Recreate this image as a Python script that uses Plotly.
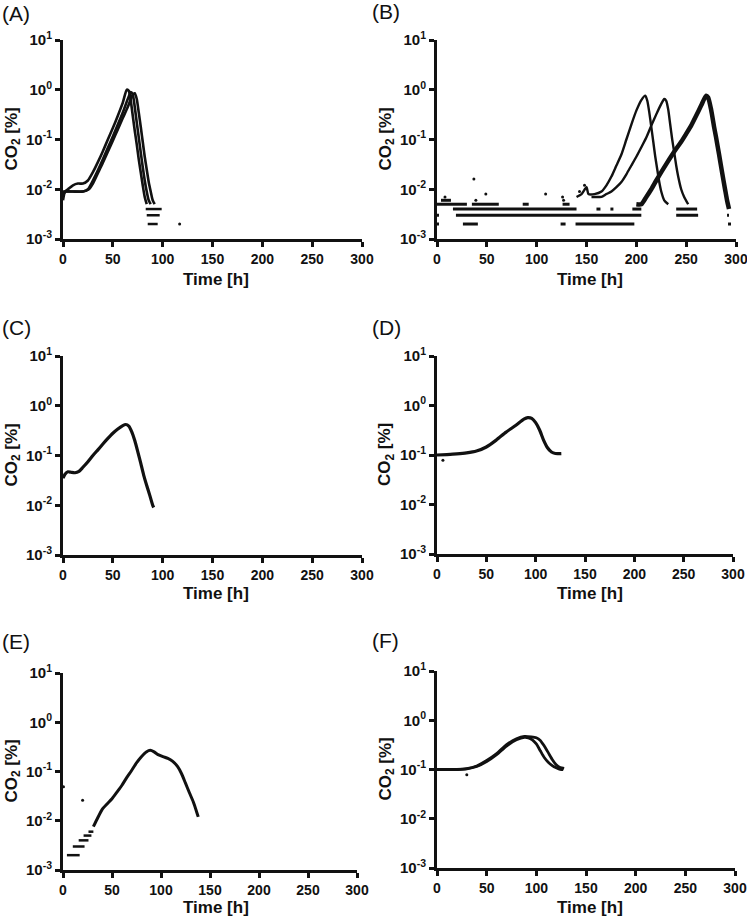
import plotly.graph_objects as go

# ---------------- data ----------------
# Panel A: three cultures
A1_t = [0, 2, 5, 10, 15, 20, 25, 30, 35, 40, 45, 50, 55, 60, 64, 66, 68, 70, 72, 74, 76, 78, 80, 82, 84]
A1_y = [0.006, 0.009, 0.010, 0.012, 0.013, 0.013, 0.015, 0.022, 0.035, 0.058, 0.10, 0.17, 0.30, 0.55, 1.0, 0.95, 0.6, 0.3, 0.15, 0.08, 0.04, 0.022, 0.012, 0.007, 0.005]
A2_t = [0, 3, 10, 20, 25, 30, 35, 40, 45, 50, 55, 60, 65, 68, 70, 72, 74, 76, 78, 80, 82, 84, 86, 88]
A2_y = [0.008, 0.009, 0.009, 0.009, 0.010, 0.015, 0.024, 0.040, 0.068, 0.115, 0.2, 0.35, 0.65, 0.9, 0.8, 0.45, 0.22, 0.11, 0.055, 0.028, 0.015, 0.009, 0.006, 0.005]
A3_t = [0, 10, 20, 26, 30, 35, 40, 45, 50, 55, 60, 65, 70, 72, 74, 76, 78, 80, 82, 84, 86, 88, 90, 92]
A3_y = [0.009, 0.009, 0.009, 0.010, 0.013, 0.021, 0.034, 0.057, 0.095, 0.16, 0.27, 0.45, 0.8, 0.85, 0.65, 0.35, 0.18, 0.09, 0.045, 0.025, 0.014, 0.009, 0.006, 0.005]
A_low_t = [83, 99, None, 84, 97, None, 85, 95]
A_low_y = [0.004, 0.004, None, 0.003, 0.003, None, 0.002, 0.002]
A_dot_t = [117]
A_dot_y = [0.002]

# Panel B: three cultures
B1_t = [140, 145, 150, 152, 158, 165, 170, 175, 180, 185, 190, 195, 200, 205, 209, 211, 213, 215, 217, 219, 221, 223, 225, 228, 232]
B1_y = [0.007, 0.008, 0.011, 0.008, 0.008, 0.009, 0.012, 0.018, 0.03, 0.05, 0.1, 0.2, 0.38, 0.62, 0.76, 0.6, 0.35, 0.18, 0.09, 0.045, 0.025, 0.014, 0.009, 0.006, 0.005]
B2_t = [155, 160, 165, 170, 175, 180, 185, 190, 195, 200, 205, 210, 215, 220, 225, 228, 230, 232, 234, 236, 238, 240, 242, 245, 248, 252]
B2_y = [0.007, 0.007, 0.007, 0.008, 0.009, 0.011, 0.014, 0.02, 0.03, 0.045, 0.07, 0.11, 0.19, 0.32, 0.52, 0.65, 0.6, 0.4, 0.2, 0.1, 0.055, 0.03, 0.018, 0.01, 0.007, 0.005]
B3_t = [200, 205, 210, 215, 220, 225, 230, 235, 240, 245, 250, 255, 260, 265, 270, 272, 275, 278, 280, 283, 286, 289, 291, 293]
B3_y = [0.005, 0.005, 0.007, 0.01, 0.015, 0.022, 0.032, 0.046, 0.065, 0.09, 0.13, 0.19, 0.3, 0.48, 0.76, 0.7, 0.4, 0.18, 0.11, 0.05, 0.022, 0.01, 0.006, 0.004]
B_low_t = [4, 14, None,
           0, 30, None, 35, 62, None, 86, 92, None, 126, 133, None,
           16, 140, None, 160, 164, None, 174, 177, None, 196, 205, None, 240, 261, None,
           0, 2, None, 19, 205, None, 240, 262, None, 291, 293, None,
           0, 2, None, 26, 41, None, 124, 129, None, 139, 198, None, 292, 295]
B_low_y = [0.006, 0.006, None,
           0.005, 0.005, None, 0.005, 0.005, None, 0.005, 0.005, None, 0.005, 0.005, None,
           0.004, 0.004, None, 0.004, 0.004, None, 0.004, 0.004, None, 0.004, 0.004, None, 0.004, 0.004, None,
           0.003, 0.003, None, 0.003, 0.003, None, 0.003, 0.003, None, 0.003, 0.003, None,
           0.002, 0.002, None, 0.002, 0.002, None, 0.002, 0.002, None, 0.002, 0.002, None, 0.002, 0.002]
B_dot_t = [8, 37, 39, 49, 109, 126, 127, 143, 148]
B_dot_y = [0.007, 0.016, 0.006, 0.008, 0.008, 0.007, 0.006, 0.009, 0.012]

# Panel C
C_t = [0, 2, 5, 8, 12, 16, 20, 25, 30, 35, 40, 45, 50, 55, 60, 63, 66, 69, 72, 75, 78, 81, 84, 87, 90, 91]
C_y = [0.035, 0.042, 0.047, 0.046, 0.045, 0.048, 0.058, 0.075, 0.1, 0.13, 0.17, 0.22, 0.28, 0.34, 0.4, 0.42, 0.39, 0.3, 0.2, 0.12, 0.07, 0.04, 0.025, 0.016, 0.01, 0.009]

# Panel D
D_t = [0, 10, 20, 30, 40, 50, 60, 70, 80, 88, 92, 96, 100, 104, 108, 112, 116, 120, 126]
D_y = [0.1, 0.102, 0.105, 0.11, 0.12, 0.145, 0.2, 0.29, 0.4, 0.53, 0.57, 0.55, 0.45, 0.32, 0.2, 0.14, 0.115, 0.107, 0.107]
D_dot_t = [6]
D_dot_y = [0.078]

# Panel E
E_t = [31, 35, 40, 45, 50, 55, 60, 65, 70, 75, 80, 85, 89, 93, 97, 102, 107, 112, 117, 121, 125, 129, 133, 136, 138]
E_y = [0.0076, 0.011, 0.017, 0.022, 0.028, 0.038, 0.052, 0.075, 0.105, 0.15, 0.2, 0.25, 0.27, 0.25, 0.22, 0.2, 0.185, 0.16, 0.125, 0.09, 0.058, 0.037, 0.024, 0.016, 0.012]
E_low_t = [4, 17, None, 10, 22, None, 16, 26, None, 21, 29, None, 26, 31]
E_low_y = [0.002, 0.002, None, 0.003, 0.003, None, 0.004, 0.004, None, 0.005, 0.005, None, 0.006, 0.006]
E_dot_t = [0.5, 20]
E_dot_y = [0.049, 0.026]

# Panel F: two cultures
F1_t = [0, 10, 20, 30, 40, 50, 60, 70, 80, 88, 92, 96, 100, 104, 108, 112, 116, 120, 124, 127]
F1_y = [0.1, 0.1, 0.1, 0.103, 0.115, 0.145, 0.2, 0.3, 0.4, 0.45, 0.44, 0.4, 0.33, 0.24, 0.175, 0.14, 0.12, 0.108, 0.1, 0.1]
F2_t = [0, 10, 20, 30, 40, 50, 60, 70, 80, 88, 95, 100, 104, 108, 112, 116, 120, 124, 128]
F2_y = [0.1, 0.1, 0.1, 0.104, 0.118, 0.152, 0.21, 0.32, 0.42, 0.47, 0.46, 0.44, 0.39, 0.3, 0.22, 0.16, 0.125, 0.11, 0.105]
F_dot_t = [30]
F_dot_y = [0.078]

x_ticks = [0, 50, 100, 150, 200, 250, 300]
y_ticks = [0.001, 0.01, 0.1, 1, 10]
y_ticktext = ["10<sup>-3</sup>", "10<sup>-2</sup>", "10<sup>-1</sup>", "10<sup>0</sup>", "10<sup>1</sup>"]
panel_labels = ["(A)", "(B)", "(C)", "(D)", "(E)", "(F)"]

# ---------------- layout geometry (pixels) ----------------
W, H = 747, 918
# (x0, x1, ytop, ybottom) of each plot area
boxes = [
    (63, 362, 40, 239),
    (437, 736, 40, 239),
    (63, 362, 356, 555),
    (437, 733, 356, 554),
    (63, 357, 673, 870),
    (437, 735, 671, 868),
]
xtitle_gap = [40, 40, 38, 39, 37, 39]

FONT = "Liberation Sans, Arial, Helvetica, sans-serif"
BLACK = "#111111"

fig = go.Figure()

def add_line(t, y, k, width=2.6):
    fig.add_trace(go.Scatter(
        x=t, y=y, mode="lines", xaxis=f"x{k}", yaxis=f"y{k}",
        line=dict(color=BLACK, width=width, shape="spline", smoothing=0.6),
        connectgaps=False, showlegend=False, hoverinfo="skip", cliponaxis=False))

def add_steps(t, y, k, width=3):
    fig.add_trace(go.Scatter(
        x=t, y=y, mode="lines", xaxis=f"x{k}", yaxis=f"y{k}",
        line=dict(color=BLACK, width=width),
        connectgaps=False, showlegend=False, hoverinfo="skip", cliponaxis=False))

def add_dots(t, y, k, size=3):
    fig.add_trace(go.Scatter(
        x=t, y=y, mode="markers", xaxis=f"x{k}", yaxis=f"y{k}",
        marker=dict(color=BLACK, size=size, line=dict(width=0)),
        showlegend=False, hoverinfo="skip", cliponaxis=False))

# A
add_line(A1_t, A1_y, 1)
add_line(A2_t, A2_y, 1)
add_line(A3_t, A3_y, 1)
add_steps(A_low_t, A_low_y, 1, 2.5)
add_dots(A_dot_t, A_dot_y, 1)
# B
add_steps(B_low_t, B_low_y, 2, 3)
add_dots(B_dot_t, B_dot_y, 2)
add_line(B1_t, B1_y, 2, 2.4)
add_line(B2_t, B2_y, 2, 2.4)
add_line(B3_t, B3_y, 2, 4.5)
# C
add_line(C_t, C_y, 3, 3.2)
# D
add_line(D_t, D_y, 4, 3.2)
add_dots(D_dot_t, D_dot_y, 4)
# E
add_line(E_t, E_y, 5, 3.0)
add_steps(E_low_t, E_low_y, 5, 2.5)
add_dots(E_dot_t, E_dot_y, 5)
# F
add_line(F1_t, F1_y, 6, 2.8)
add_line(F2_t, F2_y, 6, 2.8)
add_dots(F_dot_t, F_dot_y, 6)

layout = dict(
    width=W, height=H, autosize=False,
    margin=dict(l=0, r=0, t=0, b=0, autoexpand=False),
    paper_bgcolor="white", plot_bgcolor="white",
    showlegend=False,
    font=dict(family=FONT, color=BLACK),
)

annotations = []
for i, (x0, x1, yt, yb) in enumerate(boxes):
    k = i + 1
    xs = "" if k == 1 else str(k)
    layout[f"xaxis{xs}"] = dict(
        domain=[x0 / W, x1 / W], anchor=f"y{k}", range=[0, 300], automargin=False,
        ticklabeloverflow="allow",
        tickvals=x_ticks, ticks="outside", ticklen=5, tickwidth=2.5, tickcolor=BLACK,
        showline=True, linewidth=3, linecolor=BLACK, mirror=False,
        showgrid=False, zeroline=False,
        tickfont=dict(family=FONT, size=14, color=BLACK, weight="bold"),
    )
    layout[f"yaxis{xs}"] = dict(
        domain=[1 - yb / H, 1 - yt / H], anchor=f"x{k}", type="log", range=[-3, 1],
        automargin=False, ticklabeloverflow="allow",
        tickvals=y_ticks, ticktext=y_ticktext, ticks="outside", ticklen=5, tickwidth=2.5,
        tickcolor=BLACK, showline=True, linewidth=3, linecolor=BLACK,
        showgrid=False, zeroline=False,
        tickfont=dict(family=FONT, size=15, color=BLACK, weight="bold"),
    )
    # x title
    annotations.append(dict(
        text="<b>Time [h]</b>", xref="paper", yref="paper",
        x=(x0 + 153) / W, y=1 - (yb + xtitle_gap[i]) / H, xanchor="center", yanchor="middle",
        showarrow=False, font=dict(family=FONT, size=17, color=BLACK)))
    # y title
    annotations.append(dict(
        text="<b>CO<sub>2</sub> [%]</b>", xref="paper", yref="paper",
        x=(x0 - 51) / W, y=1 - (yt + yb) / 2 / H, xanchor="center", yanchor="middle",
        textangle=-90, showarrow=False, font=dict(family=FONT, size=17, color=BLACK)))

label_pos = [(0, 14), (370, 12), (0, 327), (370, 327), (0, 641), (370, 640)]
for lab, (lx, ly) in zip(panel_labels, label_pos):
    annotations.append(dict(
        text=lab, xref="paper", yref="paper", x=lx / W, y=1 - ly / H,
        xanchor="left", yanchor="middle", showarrow=False,
        font=dict(family=FONT, size=21, color=BLACK)))

layout["annotations"] = annotations
fig.update_layout(**layout)
fig.write_html(
    "out.html",
    config={"displayModeBar": False},
    post_script="document.body.style.margin='0px';document.body.style.padding='0px';document.body.style.overflow='hidden';",
)
